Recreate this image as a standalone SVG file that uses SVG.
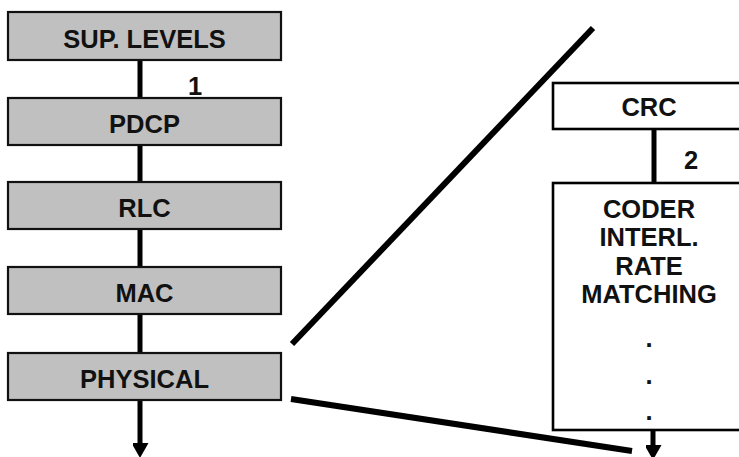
<svg xmlns="http://www.w3.org/2000/svg" width="739" height="457" viewBox="0 0 739 457">
  <style>
    .layer { fill: #c0c0c0; stroke: #111; stroke-width: 2.2; }
    .blk { fill: #ffffff; stroke: #000; stroke-width: 2.6; }
    .lbl { font-family: "Liberation Sans", Arial, sans-serif; font-weight: bold; font-size: 25.5px; fill: #111; text-anchor: middle; }
    .conn { stroke: #000; stroke-width: 5; fill: none; }
    .zoom { stroke: #000; stroke-width: 6; fill: none; }
  </style>
  <defs>
    <marker id="ah" markerUnits="userSpaceOnUse" markerWidth="18" markerHeight="16" refX="0" refY="8.5" orient="auto">
      <path d="M0,0 L15,8.5 L0,17 z" fill="#000"/>
    </marker>
  </defs>
  <rect width="739" height="457" fill="#ffffff"/>

  <g id="connectors">
    <line class="conn" x1="140" y1="60" x2="140" y2="98"/>
    <line class="conn" x1="140" y1="145" x2="140" y2="182"/>
    <line class="conn" x1="140" y1="229" x2="140" y2="267"/>
    <line class="conn" x1="140" y1="314" x2="140" y2="353"/>
    <line class="conn" x1="140" y1="400" x2="140" y2="443" marker-end="url(#ah)"/>
    <line class="conn" x1="654" y1="129" x2="654" y2="183"/>
    <line class="conn" x1="653" y1="430" x2="653" y2="445" marker-end="url(#ah)"/>
    <text class="lbl" x="195" y="95">1</text>
    <text class="lbl" x="691" y="169">2</text>
  </g>

  <g id="zoom-lines">
    <line class="zoom" x1="292" y1="344" x2="593" y2="28"/>
    <line class="zoom" x1="291" y1="399" x2="632" y2="451"/>
  </g>

  <g id="sup-levels">
    <rect class="layer" x="8" y="12" width="273" height="48"/>
    <text class="lbl" x="144.5" y="47.5">SUP. LEVELS</text>
  </g>
  <g id="pdcp">
    <rect class="layer" x="8" y="98" width="273" height="47"/>
    <text class="lbl" x="144.5" y="132.5">PDCP</text>
  </g>
  <g id="rlc">
    <rect class="layer" x="8" y="182" width="273" height="47"/>
    <text class="lbl" x="144.5" y="217">RLC</text>
  </g>
  <g id="mac">
    <rect class="layer" x="8" y="267" width="273" height="47"/>
    <text class="lbl" x="144.5" y="302">MAC</text>
  </g>
  <g id="physical">
    <rect class="layer" x="8" y="353" width="273" height="47"/>
    <text class="lbl" x="144.5" y="387.5">PHYSICAL</text>
  </g>

  <g id="crc">
    <rect class="blk" x="553" y="83" width="200" height="46"/>
    <text class="lbl" x="649" y="115.5">CRC</text>
  </g>
  <g id="coder-block">
    <rect class="blk" x="553" y="183" width="200" height="247"/>
    <text class="lbl" x="649" y="218">CODER</text>
    <text class="lbl" x="649" y="246">INTERL.</text>
    <text class="lbl" x="649" y="274.5">RATE</text>
    <text class="lbl" x="649" y="303">MATCHING</text>
    <text class="lbl" x="649" y="347">.</text>
    <text class="lbl" x="649" y="384">.</text>
    <text class="lbl" x="649" y="420">.</text>
  </g>
</svg>
